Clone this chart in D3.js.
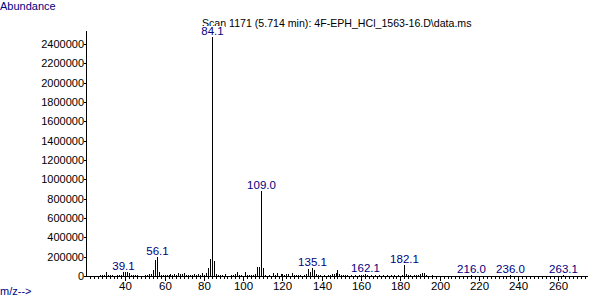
<!DOCTYPE html>
<html>
<head>
<meta charset="utf-8">
<script src="https://cdn.jsdelivr.net/npm/d3@7"></script>
<style>
  body { margin: 0; background: #fff; }
  svg { display: block; font-family: "Liberation Sans", Arial, sans-serif; }
</style>
</head>
<body>
<div id="chart"></div>
<script>
const width = 600;
const height = 298;

const title = "Scan 1171 (5.714 min): 4F-EPH_HCl_1563-16.D\\data.ms";

// m/z of each ion and its abundance
const mz = [27, 28, 29, 30, 31, 32, 33, 36, 37, 38, 39, 40, 41, 42, 43, 44, 45, 46,
  50, 51, 52, 53, 54, 55, 56, 57, 58, 59, 60, 61, 62, 63, 64, 65, 66, 67, 68, 69, 70,
  71, 72, 73, 74, 75, 76, 77, 78, 79, 80, 81, 82, 83, 84, 85, 86, 87, 88, 89, 91,
  94, 95, 96, 97, 98, 99, 101, 102, 103, 104, 105, 106, 107, 108, 109, 110, 111,
  113, 115, 116, 117, 119, 120, 121, 122, 123, 125, 126, 127, 128, 129, 131, 132,
  133, 134, 135, 136, 137, 138, 139, 141, 143, 144, 145, 146, 147, 148, 149, 150,
  151, 152, 153, 155, 157, 159, 160, 161, 162, 163, 165, 167, 169, 171, 173, 175,
  177, 179, 181, 182, 183, 184, 185, 187, 188, 189, 190, 191, 192, 193, 196,
  216, 236, 263];
const abundance = [8000, 12000, 10000, 45000, 10000, 12000, 8000, 6000, 10000, 15000, 40000, 45000, 45000, 30000, 15000, 10000, 12000, 8000,
  12000, 15000, 18000, 20000, 60000, 170000, 200000, 45000, 15000, 10000, 8000, 12000, 10000, 20000, 12000, 25000, 15000, 35000, 18000, 20000, 28000,
  12000, 15000, 10000, 12000, 20000, 10000, 25000, 15000, 28000, 15000, 30000, 80000, 175000, 2470000, 155000, 20000, 10000, 12000, 15000, 20000,
  12000, 15000, 25000, 45000, 15000, 10000, 40000, 15000, 12000, 15000, 12000, 20000, 95000, 95000, 880000, 80000, 12000,
  10000, 30000, 12000, 28000, 18000, 20000, 15000, 20000, 18000, 30000, 10000, 12000, 8000, 10000, 10000, 20000,
  75000, 45000, 80000, 60000, 20000, 10000, 8000, 10000, 10000, 12000, 18000, 25000, 30000, 60000, 20000, 12000,
  10000, 8000, 10000, 8000, 6000, 10000, 12000, 8000, 25000, 8000, 8000, 10000, 6000, 8000, 8000, 6000,
  6000, 8000, 10000, 110000, 20000, 15000, 10000, 12000, 10000, 15000, 18000, 35000, 30000, 10000, 6000,
  8000, 8000, 8000];

// labelled peaks
const peakMz = [39, 56, 84, 109, 135, 162, 182, 216, 236, 263];
const peakText = ["39.1", "56.1", "84.1", "109.0", "135.1", "162.1", "182.1", "216.0", "236.0", "263.1"];

const yTicks = d3.range(0, 2400001, 200000);
const xTicks = [40, 60, 80, 100, 120, 140, 160, 180, 200, 220, 240, 260];

const navy = "#000080";

const svg = d3.select("#chart")
  .append("svg")
  .attr("width", width)
  .attr("height", height);

const x = d3.scaleLinear().domain([20, 275.5]).range([86, 588]);
const y = d3.scaleLinear().domain([0, 2534000]).range([276, 31]);

// labels at corners
svg.append("text")
  .attr("x", 0).attr("y", 10)
  .attr("fill", navy).attr("font-size", 11)
  .text("Abundance");

svg.append("text")
  .attr("x", 0).attr("y", 295)
  .attr("fill", navy).attr("font-size", 11)
  .text("m/z-->");

svg.append("text")
  .attr("x", 202).attr("y", 27)
  .attr("fill", "#000").attr("font-size", 10.6)
  .text(title);

// y axis
const yAxis = svg.append("g").attr("shape-rendering", "crispEdges");
yAxis.append("line")
  .attr("x1", 86.5).attr("x2", 86.5)
  .attr("y1", y.range()[1]).attr("y2", 276)
  .attr("stroke", "#000");
yAxis.selectAll("line.tick")
  .data(yTicks)
  .join("line")
  .attr("class", "tick")
  .attr("x1", 84).attr("x2", 86)
  .attr("y1", (d) => Math.round(y(d)) + 0.5)
  .attr("y2", (d) => Math.round(y(d)) + 0.5)
  .attr("stroke", "#000");
yAxis.selectAll("text")
  .data(yTicks)
  .join("text")
  .attr("x", 84)
  .attr("y", (d) => Math.round(y(d)) + 4)
  .attr("text-anchor", "end")
  .attr("font-size", 11)
  .text((d) => d);

// x axis
const xAxis = svg.append("g").attr("shape-rendering", "crispEdges");
xAxis.append("line")
  .attr("x1", 86).attr("x2", 588)
  .attr("y1", 276.5).attr("y2", 276.5)
  .attr("stroke", "#000");
xAxis.selectAll("line.minor")
  .data(d3.range(22, 275, 2))
  .join("line")
  .attr("class", "minor")
  .attr("x1", (d) => Math.round(x(d)) + 0.5)
  .attr("x2", (d) => Math.round(x(d)) + 0.5)
  .attr("y1", 277)
  .attr("y2", (d) => (d % 20 === 0 ? 281 : 279))
  .attr("stroke", "#000");
xAxis.selectAll("text")
  .data(xTicks)
  .join("text")
  .attr("x", (d) => Math.round(x(d)) + 0.5)
  .attr("y", 290)
  .attr("text-anchor", "middle")
  .attr("font-size", 11.5)
  .text((d) => d);

// spectrum bars
svg.append("g")
  .attr("shape-rendering", "crispEdges")
  .selectAll("line")
  .data(mz.map((m, i) => ({ m, v: abundance[i] })))
  .join("line")
  .attr("x1", (d) => Math.round(x(d.m)) + 0.5)
  .attr("x2", (d) => Math.round(x(d.m)) + 0.5)
  .attr("y1", 276)
  .attr("y2", (d) => Math.round(y(d.v)))
  .attr("stroke", "#000");

// peak labels, with opaque background (84.1 covers the title like the original)
const peaks = peakMz.map((m, i) => ({ m, t: peakText[i], v: abundance[mz.indexOf(m)] }));
const lab = svg.append("g")
  .selectAll("g")
  .data(peaks)
  .join("g")
  .attr("transform", (d) => `translate(${Math.round(x(d.m)) + 0.5},${Math.round(y(d.v)) - 2})`);
lab.append("rect")
  .attr("x", (d) => -d.t.length * 3.1)
  .attr("y", -9)
  .attr("width", (d) => d.t.length * 6.2)
  .attr("height", 10)
  .attr("fill", "#fff");
lab.append("text")
  .attr("text-anchor", "middle")
  .attr("font-size", 11.5)
  .attr("fill", navy)
  .text((d) => d.t);
</script>
</body>
</html>
